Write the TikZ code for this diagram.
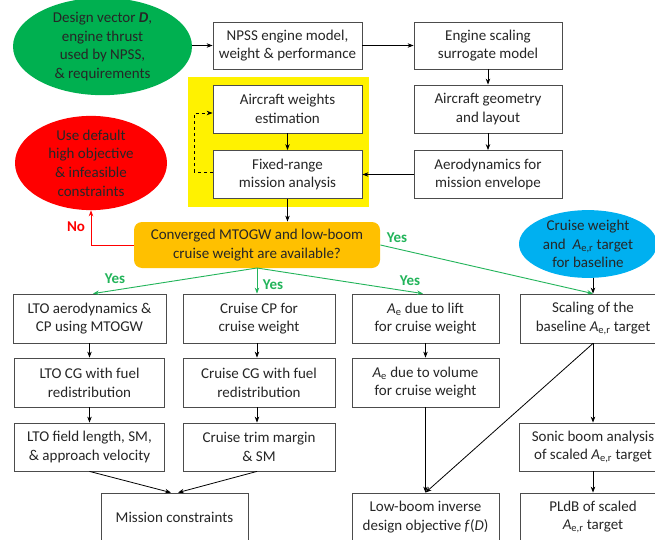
\documentclass[tikz,border=0pt]{standalone}
\usepackage{fontspec}
\setmainfont{Carlito}
\usetikzlibrary{arrows.meta,shapes.geometric,calc}
\definecolor{offgreen}{HTML}{00B050}
\definecolor{arrgreen}{HTML}{22B45A}
\definecolor{offblue}{HTML}{00B0F0}
\definecolor{offorange}{HTML}{FFC000}
\definecolor{txt}{HTML}{262626}
\tikzset{
  box/.style={draw=black!70,line width=0.8pt,fill=white,align=center,text=txt,
    font=\fontsize{15}{18.7}\selectfont,inner sep=0pt},
  ell/.style={ellipse,align=center,text=txt,inner sep=0pt,
    font=\fontsize{15}{18.7}\selectfont},
  arr/.style={-{Stealth[length=6pt,width=4.5pt]},line width=0.8pt,black},
  garr/.style={-{Stealth[length=6pt,width=4.5pt]},line width=0.9pt,arrgreen},
  lab/.style={font=\fontsize{15}{16}\selectfont\bfseries}
}
\newcommand{\Aer}{\textit{A}\textsubscript{e,r}}
\newcommand{\Ae}{\textit{A}\textsubscript{e}}
\begin{document}
\begin{tikzpicture}[x=1pt,y=-1pt]
\useasboundingbox (0,0) rectangle (655,540);
\fill[white] (0,0) rectangle (655,540);
% yellow region
\fill[yellow] (188,77) rectangle (369,207);
% ellipses
\node[ell,fill=offgreen,minimum width=179pt,minimum height=89pt] (start) at (102.5,46.5)
  {Design vector \textbf{\textit{D}},\\engine thrust\\used by NPSS,\\\& requirements};
\node[ell,fill=red,minimum width=152pt,minimum height=80pt] (fail) at (91,163)
  {Use default\\high objective\\\& infeasible\\constraints};
\node[ell,fill=offblue,minimum width=138pt,minimum height=65pt] (base) at (588,244)
  {Cruise weight\\and~ \Aer{} target\\for baseline};
% top boxes
\node[box,minimum width=149pt,minimum height=47pt] (npss) at (287.5,45.5)
  {NPSS engine model,\\weight \& performance};
\node[box,minimum width=148pt,minimum height=47pt] (esc) at (488,45.5)
  {Engine scaling\\surrogate model};
\node[box,minimum width=148pt,minimum height=48pt] (geo) at (488,109)
  {Aircraft geometry\\and layout};
\node[box,minimum width=148pt,minimum height=48pt] (aero) at (488,174.5)
  {Aerodynamics for\\mission envelope};
\node[box,minimum width=149pt,minimum height=48pt] (aw) at (287.5,109)
  {Aircraft weights\\estimation};
\node[box,minimum width=149pt,minimum height=48pt] (fr) at (287.5,174.5)
  {Fixed-range\\mission analysis};
% decision
\node[box,draw=none,fill=offorange,rounded corners=8pt,minimum width=246pt,minimum height=46pt] (dec) at (257,245)
  {Converged MTOGW and low-boom\\cruise weight are available?};
% row 1
\node[box,minimum width=153pt,minimum height=49pt] (ltoa) at (89.5,318.5)
  {LTO aerodynamics \&\\CP using MTOGW};
\node[box,minimum width=152pt,minimum height=49pt] (ccp) at (259,318.5)
  {Cruise CP for\\cruise weight};
\node[box,minimum width=147pt,minimum height=49pt] (ael) at (425.5,318.5)
  {\Ae{} due to lift\\for cruise weight};
\node[box,minimum width=146pt,minimum height=49pt] (scal) at (593,318.5)
  {Scaling of the\\baseline \Aer{} target};
% row 2
\node[box,minimum width=150pt,minimum height=49pt] (ltocg) at (89.5,382.5)
  {LTO CG with fuel\\redistribution};
\node[box,minimum width=152pt,minimum height=49pt] (ccg) at (259,382.5)
  {Cruise CG with fuel\\redistribution};
\node[box,minimum width=147pt,minimum height=49pt] (aev) at (425.5,382.5)
  {\Ae{} due to volume\\for cruise weight};
% row 3
\node[box,minimum width=150pt,minimum height=48pt] (ltof) at (89.5,447)
  {LTO field length, SM,\\\& approach velocity};
\node[box,minimum width=152pt,minimum height=48pt] (ctrim) at (259,447)
  {Cruise trim margin\\\& SM};
\node[box,minimum width=148pt,minimum height=48pt] (sonic) at (593,447)
  {Sonic boom analysis\\of scaled \Aer{} target};
% row 4
\node[box,minimum width=147pt,minimum height=48pt] (mis) at (174.5,517)
  {Mission constraints};
\node[box,minimum width=147pt,minimum height=48pt] (lb) at (425.5,517)
  {Low-boom inverse\\design objective \textit{f}(\textit{D})};
\node[box,minimum width=146pt,minimum height=48pt] (pldb) at (593,517)
  {PLdB of scaled\\\Aer{} target};
% arrows top
\draw[arr] (start.east |- npss.west) -- (npss.west);
\draw[arr] (npss) -- (esc);
\draw[arr] (esc) -- (geo);
\draw[arr] (geo) -- (aero);
\draw[arr] (aero.west) -- (fr.east);
\draw[arr] (aw) -- (fr);
\draw[arr] (fr) -- (dec.north -| fr.south);
\draw[arr,dashed] ([yshift=2.5pt]fr.west) -- ++(-18,0) |- ([yshift=-4pt]aw.west);
% No
\draw[-{Stealth[length=6pt,width=4.5pt]},line width=0.9pt,red] (dec.west) -| (fail.south);
\node[lab,text=red] (nolab) at (76,227) {No};
% Yes arrows
\coordinate (ds) at (257,268);
\draw[garr] (ds) -- ([xshift=3.5pt]ltoa.north);
\draw[garr] (ds) -- (ds |- ccp.north);
\draw[garr] (ds) -- ([xshift=-2.5pt]ael.north);
\draw[garr] (dec.east) -- (scal.north);
\node[lab,text=arrgreen] (y1) at (115,279) {Yes};
\node[lab,text=arrgreen] (y2) at (273,285) {Yes};
\node[lab,text=arrgreen] (y3) at (410,281) {Yes};
\node[lab,text=arrgreen] (y4) at (397,238) {Yes};
% lower arrows
\draw[arr] (base.south -| scal.north) -- (scal.north);
\draw[arr] (ltoa.south) -- (ltocg.north);
\draw[arr] (ltocg) -- (ltof);
\draw[arr] (ccp.south -| ds) -- (ccg.north -| ds);
\draw[arr] (ccg.south -| ds) -- (ctrim.north -| ds);
\draw[arr] (ltof.south) -- ([xshift=-3.5pt]mis.north);
\draw[arr] (ctrim.south -| ds) -- ([xshift=3.5pt]mis.north);
\draw[arr] (ael) -- (aev);
\draw[arr] (aev) -- (lb);
\draw[arr] (scal.south) -- (lb.north);
\draw[arr] (scal) -- (sonic);
\draw[arr] (sonic) -- (pldb);
\end{tikzpicture}
\end{document}
